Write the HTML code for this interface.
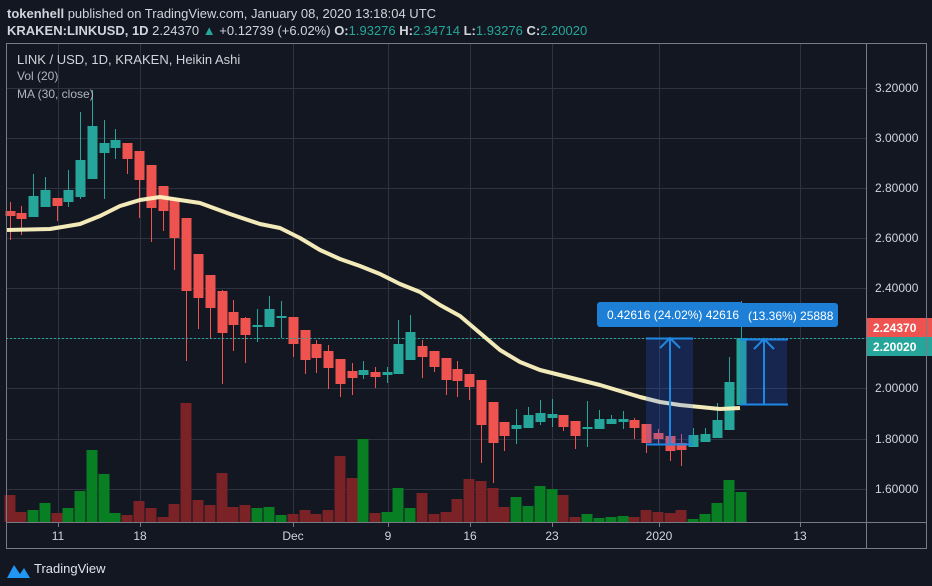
<!DOCTYPE html>
<html><head><meta charset="utf-8"><style>
html,body{margin:0;padding:0;background:#131722;}
svg{display:block;font-family:"Liberation Sans",sans-serif;}
</style></head><body>
<svg id="s" width="932" height="586" viewBox="0 0 932 586" xmlns="http://www.w3.org/2000/svg">
<rect width="932" height="586" fill="#131722"/>
<text x="7" y="18" font-size="13" fill="#d1d4dc"><tspan font-weight="bold">tokenhell</tspan> published on TradingView.com, January 08, 2020 13:18:04 UTC</text>
<text x="7" y="35" font-size="13" fill="#d1d4dc"><tspan font-weight="bold">KRAKEN:LINKUSD, 1D</tspan> 2.24370 <tspan fill="#26a69a">▲</tspan> +0.12739 (+6.02%) <tspan font-weight="bold">O:</tspan><tspan fill="#26a69a">1.93276</tspan> <tspan font-weight="bold">H:</tspan><tspan fill="#26a69a">2.34714</tspan> <tspan font-weight="bold">L:</tspan><tspan fill="#26a69a">1.93276</tspan> <tspan font-weight="bold">C:</tspan><tspan fill="#26a69a">2.20020</tspan></text>
<g id="grid" stroke="#2f3340" stroke-width="1"></g>
<g id="vol"></g>
<g id="cand"></g>
<line x1="6" x2="866" y1="338.5" y2="338.5" stroke="#26a69a" stroke-dasharray="2,2"/>
<polyline id="ma" fill="none" stroke="#fff5c2" stroke-width="4" stroke-linejoin="round" opacity="0.95"/>
<g>
<rect x="646" y="338" width="47" height="107" fill="#2962ff" opacity="0.2"/>
<line x1="646" x2="693" y1="338.5" y2="338.5" stroke="#1e88e5" stroke-width="2"/>
<line x1="646" x2="693" y1="444.5" y2="444.5" stroke="#1e88e5" stroke-width="2"/>
<line x1="670" x2="670" y1="339" y2="444" stroke="#1e88e5" stroke-width="2"/>
<polyline points="660,348 670,338 680,348" fill="none" stroke="#1e88e5" stroke-width="2"/>
<rect x="740" y="338" width="47" height="67" fill="#2962ff" opacity="0.2"/>
<line x1="740" x2="788" y1="339.5" y2="339.5" stroke="#1e88e5" stroke-width="2"/>
<line x1="740" x2="788" y1="404.5" y2="404.5" stroke="#1e88e5" stroke-width="2"/>
<line x1="764" x2="764" y1="340" y2="404" stroke="#1e88e5" stroke-width="2"/>
<polyline points="754,349 764,339 774,349" fill="none" stroke="#1e88e5" stroke-width="2"/>
<rect x="692" y="303" width="146" height="24" rx="3" fill="#1e7fd6"/>
<text x="748" y="320" font-size="12" fill="#fff">(13.36%) 25888</text>
<rect x="597" y="302" width="146" height="25" rx="3" fill="#1e7fd6"/>
<text x="607" y="319" font-size="12" fill="#fff">0.42616 (24.02%) 42616</text>
</g>
<g fill="#d1d4dc" font-size="12" id="plab"></g>
<rect x="866" y="318" width="66" height="19" fill="#ef5350"/>
<text x="873" y="332" font-size="12" font-weight="bold" fill="#fff">2.24370</text>
<rect x="866" y="337" width="66" height="19" fill="#26a69a"/>
<text x="873" y="351" font-size="12" font-weight="bold" fill="#fff">2.20020</text>
<g fill="none" stroke="#787b86" stroke-width="1">
<rect x="6.5" y="43.5" width="920" height="505"/>
<line x1="866.5" x2="866.5" y1="43" y2="548"/>
<line x1="6" x2="926" y1="522.5" y2="522.5"/>
</g>
<text x="17" y="64" font-size="13" fill="#d1d4dc">LINK / USD, 1D, KRAKEN, Heikin Ashi</text>
<text x="17" y="80" font-size="12" fill="#b2b5be">Vol (20)</text>
<text x="17" y="98" font-size="12" fill="#b2b5be">MA (30, close)</text>
<g fill="#d1d4dc" font-size="12" text-anchor="middle" id="tlab"></g>
<path d="M7,578 L14,565 L20,574 L24,568 L30,578 Z" fill="#2196f3"/>
<text x="34" y="573" font-size="13" fill="#e0e3eb">TradingView</text>
</svg>
<script>
var NS="http://www.w3.org/2000/svg";
function el(p,t,a){var e=document.createElementNS(NS,t);for(var k in a)e.setAttribute(k,a[k]);document.getElementById(p).appendChild(e);return e;}
var py=[88,138,188,238,288,388,439,489],pv=["3.20000","3.00000","2.80000","2.60000","2.40000","2.00000","1.80000","1.60000"];
py.forEach(function(y,i){el("grid","line",{x1:6,x2:866,y1:y+.5,y2:y+.5});var t=el("plab","text",{x:875,y:y+4});t.textContent=pv[i];});
[338].forEach(function(y){el("grid","line",{x1:6,x2:866,y1:y+.5,y2:y+.5});});
var tx=[58,140,293,388,470,552,659,800],tl=["11","18","Dec","9","16","23","2020","13"];
tx.forEach(function(x,i){el("grid","line",{x1:x+.5,x2:x+.5,y1:43,y2:522});el("grid","line",{x1:x+.5,x2:x+.5,y1:522,y2:527,stroke:"#787b86"});var t=el("tlab","text",{x:x,y:540});t.textContent=tl[i];});
// candles: x, bodyTop, bodyBot, wickTop, wickBot, g(1)/r(0)
var C=[[10,211,216,202,240,0],[21,213,219,206,235,0],[33,196,217,174,217,1],[45,190,207,177,207,1],[57,198,206,198,221,0],[68,190,202,170,207,1],[80,160,197,112,199,1],[92,126,179,90,179,1],[104,143,153,120,199,1],[115,140,148,129,159,1],[127,143,159,143,174,0],[139,151,180,151,218,0],[151,165,208,165,242,0],[163,186,211,186,231,0],[174,198,238,198,270,0],[186,218,291,218,361,0],[198,254,298,254,329,0],[210,275,308,275,338,0],[222,291,333,290,384,0],[233,312,325,300,351,0],[245,318,335,317,363,0],[257,325,327,309,342,1],[269,309,327,296,327,1],[281,316,318,301,338,1],[293,317,344,317,357,0],[305,330,360,330,374,0],[316,344,358,340,373,0],[328,351,368,345,389,0],[340,359,384,359,397,0],[352,371,378,363,395,0],[363,370,375,361,379,1],[375,372,377,367,388,0],[387,372,375,367,383,1],[398,344,374,320,374,1],[410,332,360,315,360,1],[422,346,357,340,378,0],[434,351,367,351,372,0],[446,358,380,358,395,0],[457,369,381,361,397,0],[469,374,387,374,400,0],[481,380,425,380,463,0],[493,402,443,402,483,0],[504,422,436,422,451,0],[516,425,429,409,444,1],[528,415,428,407,428,1],[540,413,422,400,425,1],[552,414,418,399,427,1],[563,415,427,415,431,0],[575,421,436,421,449,0],[587,427,429,401,447,1],[599,419,429,410,429,1],[611,419,424,415,424,1],[623,419,422,411,429,1],[634,420,428,418,439,0],[646,424,443,424,453,0],[658,433,439,429,445,0],[670,436,451,436,461,0],[681,443,450,434,466,0],[693,435,447,428,447,1],[705,434,442,428,442,1],[717,420,438,403,438,1],[729,382,430,357,430,1],[741,338,405,301,405,1]];
var V=[495,512,510,503,513,508,491,450,474,513,515,501,508,517,504,403,500,505,473,507,505,508,507,515,514,510,514,510,456,478,439,513,512,488,508,493,514,512,499,479,481,488,507,497,506,486,489,495,517,514,518,517,516,517,510,512,513,510,519,514,503,480,492];
var VC=[0,0,1,1,0,1,1,1,1,1,0,0,0,0,0,0,0,0,0,0,0,1,1,1,0,0,0,0,0,0,1,0,1,1,1,0,0,0,0,0,0,0,0,1,1,1,1,0,0,1,1,1,1,0,0,0,0,0,1,1,1,1,1];
C.forEach(function(c,i){var x=c[0];
 el("vol","rect",{x:x-5.5,y:V[i],width:11,height:522-V[i],fill:VC[i]?"#087f23":"#7a2226"});
 var col=c[5]?"#26a69a":"#ef5350";
 el("cand","line",{x1:x+.5,x2:x+.5,y1:c[3],y2:c[4],stroke:col,"stroke-width":1});
 el("cand","rect",{x:x-4.5,y:c[1],width:10,height:Math.max(2,c[2]-c[1]),fill:col});
});
document.getElementById("ma").setAttribute("points","7,230 50,229 80,224 100,216 120,206 140,200 160,197 180,200 200,203 230,214 260,224 280,228 300,238 320,250 340,259 360,266 380,274 400,284 420,292 440,305 460,316 480,333 500,350 520,362 540,370 560,375 580,380 600,385 620,391 640,397 660,402 680,405 700,407 720,409 740,408");
</script>
</body></html>
